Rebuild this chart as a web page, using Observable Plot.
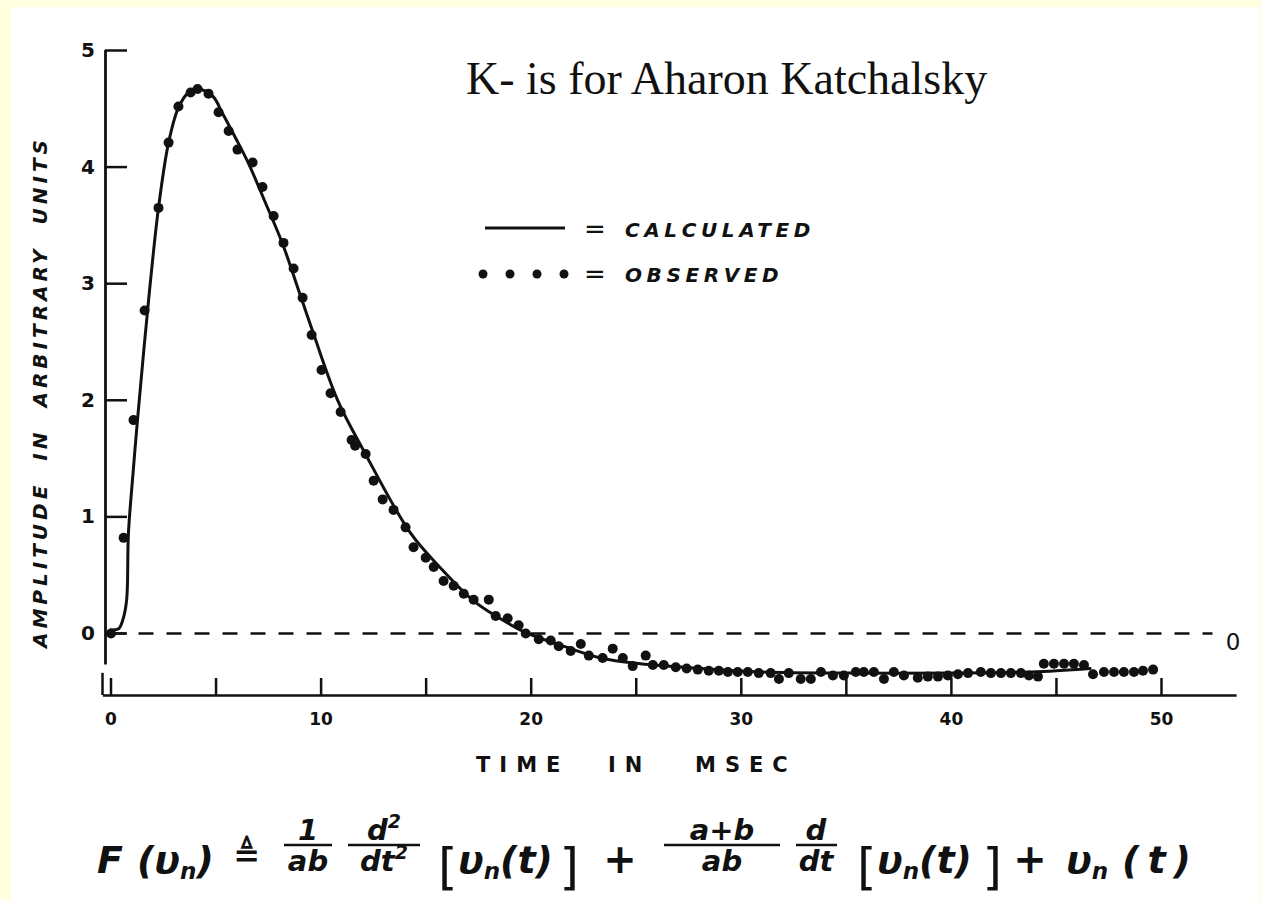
<!DOCTYPE html>
<html><head><meta charset="utf-8">
<script src="https://cdn.jsdelivr.net/npm/d3@7"></script>
<script src="https://cdn.jsdelivr.net/npm/@observablehq/plot@0.6"></script>
<style>
html,body{margin:0;padding:0;background:#FFFFDD;width:1261px;height:900px;overflow:hidden}
#paper{position:absolute;left:11px;top:7px;width:1248px;height:893px;background:#fff}
#chart{position:absolute;left:0;top:0}
#overlay{position:absolute;left:0;top:0}
</style></head><body>
<div id="paper"></div>
<div id="chart"></div>
<svg id="overlay" width="1261" height="900" xmlns="http://www.w3.org/2000/svg">
  <g fill="#111" font-family="DejaVu Sans">
    <text x="466" y="94" font-family="Liberation Serif" font-size="46">K- is for Aharon Katchalsky</text>
    <!-- y axis title -->
    <text transform="translate(47,392) rotate(-90)" text-anchor="middle" font-size="20" font-weight="bold" font-style="italic" letter-spacing="4" word-spacing="10">AMPLITUDE IN ARBITRARY UNITS</text>
    <!-- x axis title -->
    <text y="772" font-size="21" font-weight="bold" letter-spacing="9"><tspan x="476">TIME</tspan><tspan x="608">IN</tspan><tspan x="695">MSEC</tspan></text>
    <!-- legend -->
    <line x1="485" x2="565" y1="228" y2="228" stroke="#111" stroke-width="3"/>
    <text x="595" y="229" font-size="26" text-anchor="middle" dominant-baseline="central">=</text>
    <text x="625" y="237" font-size="20" font-weight="bold" font-style="italic" letter-spacing="4.6">CALCULATED</text>
    <circle cx="483" cy="274" r="4.5"/><circle cx="510" cy="274" r="4.5"/><circle cx="537" cy="274" r="4.5"/><circle cx="564" cy="274" r="4.5"/>
    <text x="595" y="274" font-size="26" text-anchor="middle" dominant-baseline="central">=</text>
    <text x="625" y="282" font-size="20" font-weight="bold" font-style="italic" letter-spacing="4.6">OBSERVED</text>
  </g>
  <!-- formula -->
  <g fill="#111" font-family="DejaVu Sans" font-weight="bold" font-style="italic">
    <text x="97" y="873" font-size="38">F</text>
    <text x="137" y="873" font-size="38">(υ<tspan font-size="23" dy="6">n</tspan><tspan dy="-6">)</tspan></text>
    <text x="247" y="866" font-size="32" text-anchor="middle" font-style="normal">≜</text>
    <text x="308" y="840" font-size="29" text-anchor="middle">1</text>
    <line x1="284" x2="332" y1="845" y2="845" stroke="#111" stroke-width="2.5"/>
    <text x="308" y="871" font-size="29" text-anchor="middle">ab</text>
    <text x="384" y="840" font-size="29" text-anchor="middle">d<tspan font-size="19" dy="-12">2</tspan></text>
    <line x1="348" x2="420" y1="845" y2="845" stroke="#111" stroke-width="2.5"/>
    <text x="384" y="871" font-size="29" text-anchor="middle">dt<tspan font-size="19" dy="-12">2</tspan></text>
    <text x="438" y="884" font-size="50" font-style="normal" font-weight="normal">[</text>
    <text x="458" y="873" font-size="38">υ<tspan font-size="23" dy="6">n</tspan><tspan dy="-6">(t)</tspan></text>
    <text x="579" y="884" font-size="50" font-style="normal" font-weight="normal" text-anchor="end">]</text>
    <text x="620" y="873" font-size="40" text-anchor="middle" font-style="normal">+</text>
    <text x="722" y="840" font-size="29" text-anchor="middle">a+b</text>
    <line x1="664" x2="780" y1="845" y2="845" stroke="#111" stroke-width="2.5"/>
    <text x="722" y="871" font-size="29" text-anchor="middle">ab</text>
    <text x="816" y="840" font-size="29" text-anchor="middle">d</text>
    <line x1="796" x2="837" y1="845" y2="845" stroke="#111" stroke-width="2.5"/>
    <text x="816" y="871" font-size="29" text-anchor="middle">dt</text>
    <text x="857" y="884" font-size="50" font-style="normal" font-weight="normal">[</text>
    <text x="877" y="873" font-size="38">υ<tspan font-size="23" dy="6">n</tspan><tspan dy="-6">(t)</tspan></text>
    <text x="1002" y="884" font-size="50" font-style="normal" font-weight="normal" text-anchor="end">]</text>
    <text x="1030" y="873" font-size="40" text-anchor="middle" font-style="normal">+</text>
    <text x="1066" y="873" font-size="38">υ<tspan font-size="23" dy="6">n</tspan><tspan dy="-6" dx="14">(</tspan><tspan dx="8">t</tspan><tspan dx="8">)</tspan></text>
  </g>
</svg>
<script>
// ---- data ----
const xTicks = [0, 5, 10, 15, 20, 25, 30, 35, 40, 45, 50];
const xTickLabels = [0, 10, 20, 30, 40, 50];
const yTicks = [0, 1, 2, 3, 4, 5];

// observed (dots): time in msec, amplitude
const observedT = [0.0,0.60,1.07,1.60,2.26,2.74,3.21,3.79,4.12,4.64,5.12,5.60,6.02,6.74,7.21,7.74,8.21,8.69,9.12,9.55,
  10.02,10.45,10.93,11.45,11.62,12.12,12.50,12.93,13.45,14.02,14.40,14.98,15.36,15.83,16.31,16.79,17.26,17.98,18.31,18.88,
  19.40,19.74,20.36,20.93,21.31,21.88,22.36,22.74,23.40,23.88,24.36,24.83,25.45,25.79,26.31,26.88,27.40,27.93,28.45,28.93,
  29.36,29.83,30.31,30.83,31.40,31.79,32.26,32.83,33.31,33.79,34.36,34.88,35.45,35.83,36.31,36.79,37.26,37.74,38.40,38.88,
  39.36,39.83,40.31,40.79,41.40,41.88,42.36,42.83,43.31,43.69,44.12,44.40,44.88,45.36,45.83,46.31,46.74,47.26,47.74,48.21,
  48.69,49.12,49.60];
const observedV = [0.0,0.82,1.83,2.77,3.65,4.21,4.52,4.64,4.67,4.63,4.47,4.31,4.15,4.04,3.83,3.58,3.35,3.13,2.88,2.56,
  2.26,2.06,1.90,1.66,1.61,1.54,1.31,1.15,1.06,0.91,0.74,0.65,0.57,0.45,0.41,0.34,0.29,0.29,0.15,0.13,
  0.07,0.00,-0.05,-0.06,-0.11,-0.15,-0.09,-0.19,-0.21,-0.13,-0.21,-0.28,-0.19,-0.27,-0.27,-0.29,-0.30,-0.31,-0.32,-0.32,
  -0.33,-0.33,-0.33,-0.34,-0.34,-0.39,-0.34,-0.39,-0.39,-0.33,-0.36,-0.36,-0.33,-0.33,-0.33,-0.39,-0.33,-0.36,-0.38,-0.37,
  -0.37,-0.36,-0.35,-0.34,-0.33,-0.34,-0.34,-0.34,-0.34,-0.36,-0.37,-0.26,-0.26,-0.26,-0.26,-0.27,-0.35,-0.33,-0.33,-0.33,
  -0.33,-0.32,-0.31];

// calculated (solid line)
const calculatedT = [0.00,0.36,0.55,0.74,0.83,1.07,1.26,1.79,2.26,2.74,3.21,3.69,4.12,4.83,5.31,5.93,6.55,7.36,8.17,8.88,
  9.64,10.79,12.02,14.26,15.80,17.26,18.50,19.83,21.40,23.30,25.20,28.10,30.90,35.20,40.00,43.80,46.60];
const calculatedV = [0.03,0.04,0.11,0.28,0.86,1.42,1.83,2.86,3.65,4.21,4.51,4.64,4.67,4.61,4.46,4.25,4.03,3.69,3.34,2.97,
  2.57,2.00,1.57,0.86,0.54,0.28,0.13,0.00,-0.10,-0.21,-0.26,-0.30,-0.33,-0.34,-0.34,-0.33,-0.30];

// axis extents (in data units)
const yBottom = -0.532;      // level of the time axis
const yAxisLineBottom = -0.27;
const xAxisStart = -0.36, xAxisEnd = 53.6;
const zeroLineEnd = 52.45;

const observed = observedT.map((t, i) => ({t, v: observedV[i]}));
const calculated = calculatedT.map((t, i) => ({t, v: calculatedV[i]}));

const ink = "#111";
const fig = Plot.plot({
  width: 1261, height: 790,
  marginLeft: 110.5, marginRight: 100, marginTop: 50, marginBottom: 95,
  x: {domain: [0, 50]},
  y: {domain: [yBottom, 5]},
  style: {background: "transparent", overflow: "visible", color: ink},
  marks: [
    Plot.ruleY([0], {x1: 0, x2: zeroLineEnd, stroke: ink, strokeWidth: 2.5, strokeDasharray: "15,13"}),
    Plot.text(["0"], {x: zeroLineEnd, y: 0, dx: 20, dy: 9, text: d => d, fontSize: 23, fontFamily: "DejaVu Sans", fill: ink}),
    Plot.ruleX([0], {y1: yAxisLineBottom, y2: 5, dx: -5.5, stroke: ink, strokeWidth: 2.8}),
    Plot.ruleX([0], {y1: yBottom, y2: yBottom + 0.19, dx: -8.5, stroke: ink, strokeWidth: 2.5}),
    Plot.axisY({ticks: yTicks, tickSize: 22, dx: 16.5, tickFormat: () => "", strokeWidth: 2.5, label: null}),
    Plot.axisY({ticks: yTicks, tickSize: 0, tickPadding: 16, tickFormat: d => String(d), label: null, fontSize: 20, fontWeight: "bold", fontFamily: "DejaVu Sans", fill: ink}),
    Plot.ruleY([yBottom], {x1: xAxisStart, x2: xAxisEnd, stroke: ink, strokeWidth: 2.5}),
    Plot.axisX({ticks: xTicks, tickSize: 17, dy: -17, tickFormat: () => "", strokeWidth: 2.5, label: null}),
    Plot.axisX({ticks: xTickLabels, tickSize: 0, tickPadding: 17, tickFormat: d => String(d), label: null, fontSize: 17, fontWeight: "bold", fontFamily: "DejaVu Sans", fill: ink}),
    Plot.line(calculated, {x: "t", y: "v", stroke: ink, strokeWidth: 3, curve: "catmull-rom"}),
    Plot.dot(observed, {x: "t", y: "v", r: 5, fill: ink, stroke: "none"})
  ]
});
document.getElementById("chart").appendChild(fig);
</script>
</body></html>
